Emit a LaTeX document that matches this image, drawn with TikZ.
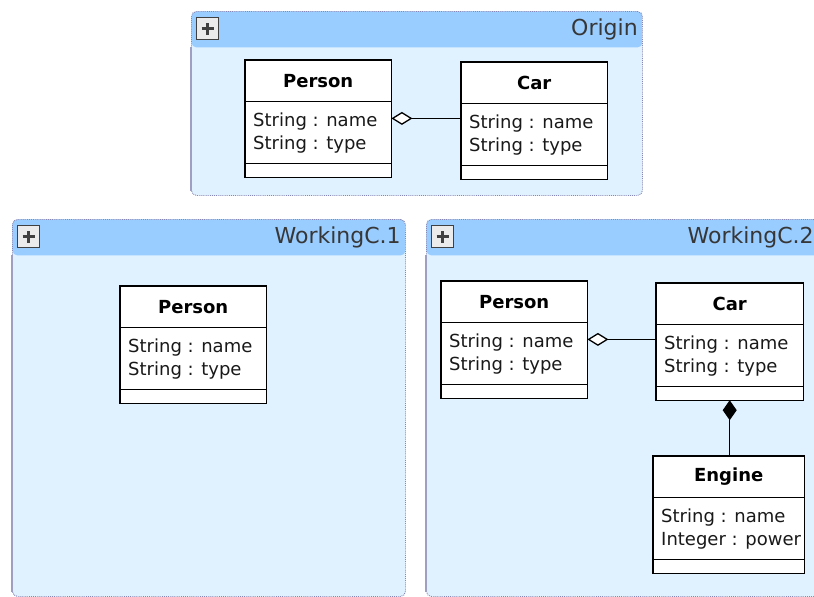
\documentclass[tikz,border=0pt]{standalone}
\usepackage{fontspec}
\setmainfont{DejaVu Sans}
\usetikzlibrary{arrows.meta}

\definecolor{panelhead}{RGB}{153,204,255}
\definecolor{panelbody}{RGB}{224,242,255}
\definecolor{panelrim}{RGB}{135,135,180}
\definecolor{titleink}{RGB}{55,55,55}

\tikzset{
  panel/.style={draw=panelrim, densely dotted, line width=0.9pt, fill=panelbody,
    rounded corners=5pt, inner sep=0pt, anchor=north west,
    path picture={\fill[panelhead] (path picture bounding box.north west)
      rectangle ([yshift=-36pt]path picture bounding box.north east);}},
  panelside/.style={draw=panelrim!80, line width=1.4pt},
  paneltitle/.style={font=\fontsize{22}{24}\selectfont, text=titleink, inner sep=0pt, anchor=east},
  plusbtn/.style={draw=black!75, line width=1pt, fill=black!8, minimum width=22pt,
    minimum height=22pt, inner sep=0pt, anchor=north west,
    path picture={\draw[line width=2.6pt]
      ([xshift=-6pt]path picture bounding box.center) -- ([xshift=6pt]path picture bounding box.center)
      ([yshift=-6pt]path picture bounding box.center) -- ([yshift=6pt]path picture bounding box.center);}},
  classpart/.style={fill=white, inner sep=0pt, anchor=north},
  classhead/.style={classpart, minimum height=41pt, font=\fontsize{18}{22}\selectfont\bfseries, anchor=north west},
  classattr/.style={classpart, minimum height=62pt},
  classops/.style={classpart, minimum height=13pt},
  classline/.style={draw=black, line width=1.3pt},
  attrtext/.style={anchor=west, align=left, inner sep=0pt, text=black!90,
    font=\fontsize{18}{23}\selectfont},
  aggr/.style={line width=1.3pt, arrows={Diamond[fill=white,length=21pt,width=13pt]-}},
  comp/.style={line width=1.3pt, arrows={Diamond[length=20pt,width=14pt]-}},
}

% a UML class: name, x, y (top left), width, title, attribute lines
\newcommand{\umlclass}[6]{%
  \node[classhead, minimum width=#4pt] (#1H) at (#2,#3) {#5};
  \node[classattr, minimum width=#4pt] (#1A) at (#1H.south) {};
  \node[classops, minimum width=#4pt] (#1O) at (#1A.south) {};
  \node[attrtext] (#1T) at ([xshift=8pt]#1A.west) {#6};
  \draw[classline] (#1H.north west) rectangle (#1O.south east)
    (#1A.north west) -- (#1A.north east)
    (#1O.north west) -- (#1O.north east);
}

% a package panel: name, x, y (top left), width, height, title
\newcommand{\umlpanel}[6]{%
  \node[panel, minimum width=#4pt, minimum height=#5pt] (#1) at (#2,#3) {};
  \draw[panelside] ([yshift=-36pt]#1.north west) -- ([yshift=5pt]#1.south west);
  \node[paneltitle] (#1Title) at ([xshift=-5pt,yshift=-18pt]#1.north east) {#6};
  \node[plusbtn] (#1Btn) at ([xshift=5pt,yshift=-6pt]#1.north west) {};
}

\begin{document}
\begin{tikzpicture}[x=1pt,y=-1pt]
\useasboundingbox (0,0) rectangle (814,597);
\clip (0,0) rectangle (814,597);

% packages
\umlpanel{origin}{191}{11}{451}{184}{Origin}
\umlpanel{workA}{12}{219}{393}{377}{WorkingC.1}
\umlpanel{workB}{426}{219}{392}{377}{WorkingC.2}

% Origin
\umlclass{oPerson}{245}{60}{146}{Person}{String : name\\String : type}
\umlclass{oCar}{461}{62}{146}{Car}{String : name\\String : type}
\coordinate (oAgg) at ([yshift=-17pt]oPersonA.north east);
\draw[aggr] (oAgg) -- (oAgg -| oCarA.west);

% WorkingC.1
\umlclass{aPerson}{120}{286}{146}{Person}{String : name\\String : type}

% WorkingC.2
\umlclass{bPerson}{441}{281}{146}{Person}{String : name\\String : type}
\umlclass{bCar}{656}{283}{147}{Car}{String : name\\String : type}
\umlclass{bEngine}{653}{456}{151}{Engine}{String : name\\Integer : power}
\coordinate (bAgg) at ([yshift=-17pt]bPersonA.north east);
\draw[aggr] (bAgg) -- (bAgg -| bCarA.west);
\draw[comp] (bCarO.south) -- (bCarO.south |- bEngineH.north);

\end{tikzpicture}
\end{document}
